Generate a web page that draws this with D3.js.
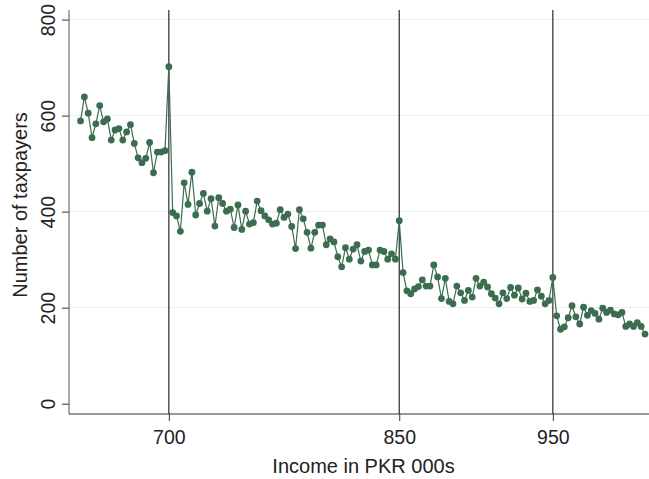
<!DOCTYPE html>
<html lang="en">
  <head>
    <meta charset="UTF-8" />
    <title>Number of taxpayers by income</title>
    <style>
      body {
        margin: 0;
        background-color: #fff;
      }
      svg {
        display: block;
        font-family: "Liberation Sans", Arial, sans-serif;
      }
    </style>
  </head>
  <body>
    <svg id="chart"></svg>

    <script src="https://d3js.org/d3.v7.min.js"></script>
    <script>
      const width = 649;
      const height = 479;

      // income bins, 642.5 ... 1010 (PKR 000s), step 2.5
      const incomeStart = 642.5;
      const incomeStep = 2.5;
      const taxpayers = [
        589, 639, 605, 554, 583, 621, 587, 593, 549, 570, 573, 549, 566, 581,
        542, 512, 502, 511, 544, 481, 524, 524, 527, 702,
        398, 391, 359, 460, 415, 482, 393, 417, 438, 401, 427, 370, 429, 417,
        401, 405, 367, 414, 363, 401, 374, 377, 422, 402, 391, 383, 374, 376,
        404, 388, 395, 369, 323, 404, 385, 357, 324, 357, 372, 372, 331, 343,
        337, 306, 285, 325, 301, 322, 331, 297, 317, 320, 289, 289, 320, 317,
        301, 312, 301, 381,
        273, 235, 229, 239, 244, 258, 245, 245, 289, 264, 219, 261, 213, 208,
        245, 231, 215, 236, 222, 261, 245, 253, 243, 229, 220, 208, 231, 219,
        242, 226, 241, 218, 230, 213, 215, 237, 224, 208, 215, 263,
        183, 155, 160, 179, 204, 181, 166, 201, 184, 194, 188, 176, 199, 190,
        195, 187, 185, 190, 161, 166, 161, 169, 161, 145,
      ];
      const data = taxpayers.map((v, i) => ({
        income: incomeStart + i * incomeStep,
        count: v,
      }));

      const xTicks = [700, 850, 950];
      const yTicks = [0, 200, 400, 600, 800];
      const cutoffs = [700, 850, 950];

      const plotLeft = 69;
      const plotRight = 649.6;
      const plotTop = 10;
      const plotBottom = 414;

      const green = "#3b6d4e";
      const textColor = "#222";

      const svg = d3
        .select("#chart")
        .attr("width", width)
        .attr("height", height)
        .attr("viewBox", `0 0 ${width} ${height}`);

      const x = d3.scaleLinear().domain([635, 1013]).range([plotLeft, plotRight]);
      const y = d3
        .scaleLinear()
        .domain([-21.5, 820])
        .range([plotBottom, plotTop]);

      // grid
      svg
        .append("g")
        .selectAll("line")
        .data(yTicks.filter((d) => d > 0))
        .join("line")
        .attr("x1", plotLeft)
        .attr("x2", plotRight)
        .attr("y1", (d) => y(d))
        .attr("y2", (d) => y(d))
        .attr("stroke", "#e9eff4")
        .attr("stroke-width", 1);

      // cutoff lines
      svg
        .append("g")
        .selectAll("line")
        .data(cutoffs)
        .join("line")
        .attr("x1", (d) => x(d))
        .attr("x2", (d) => x(d))
        .attr("y1", plotTop)
        .attr("y2", plotBottom)
        .attr("stroke", "#2b2b2b")
        .attr("stroke-width", 1.2);

      // y axis
      const yAxis = svg
        .append("g")
        .attr("transform", `translate(${plotLeft},0)`)
        .call(d3.axisLeft(y).tickValues(yTicks).tickSize(7));
      yAxis.select(".domain").attr("d", `M0,${plotTop}V${plotBottom}`).attr("stroke", "#555");
      yAxis.selectAll(".tick line").attr("stroke", "#333");
      yAxis
        .selectAll(".tick text")
        .attr("font-size", 19.5)
        .attr("font-family", "Liberation Sans, Arial, sans-serif")
        .attr("fill", textColor)
        .attr("text-anchor", "middle")
        .attr("x", 0)
        .attr("y", 0)
        .attr("dy", 0)
        .attr("transform", "translate(-14,0) rotate(-90)");

      // x axis
      const xAxis = svg
        .append("g")
        .attr("transform", `translate(0,${plotBottom})`)
        .call(d3.axisBottom(x).tickValues(xTicks).tickSize(7));
      xAxis.select(".domain").attr("d", `M${plotLeft},0H${plotRight}`).attr("stroke", "#333");
      xAxis.selectAll(".tick line").attr("stroke", "#333");
      xAxis
        .selectAll(".tick text")
        .attr("font-size", 19.5)
        .attr("font-family", "Liberation Sans, Arial, sans-serif")
        .attr("fill", textColor)
        .attr("y", 30.3)
        .attr("dy", 0);

      // series
      const line = d3
        .line()
        .x((d) => x(d.income))
        .y((d) => y(d.count));

      svg
        .append("path")
        .datum(data)
        .attr("d", line)
        .attr("fill", "none")
        .attr("stroke", green)
        .attr("stroke-width", 1.2);

      svg
        .append("g")
        .selectAll("circle")
        .data(data)
        .join("circle")
        .attr("cx", (d) => x(d.income))
        .attr("cy", (d) => y(d.count))
        .attr("r", 3.4)
        .attr("fill", green);

      // titles
      svg
        .append("text")
        .attr("x", 363.5)
        .attr("y", 472.7)
        .attr("text-anchor", "middle")
        .attr("font-size", 20)
        .attr("fill", textColor)
        .text("Income in PKR 000s");

      svg
        .append("text")
        .attr("transform", "translate(26.7,205) rotate(-90)")
        .attr("text-anchor", "middle")
        .attr("font-size", 20)
        .attr("fill", textColor)
        .text("Number of taxpayers");
    </script>
  </body>
</html>
